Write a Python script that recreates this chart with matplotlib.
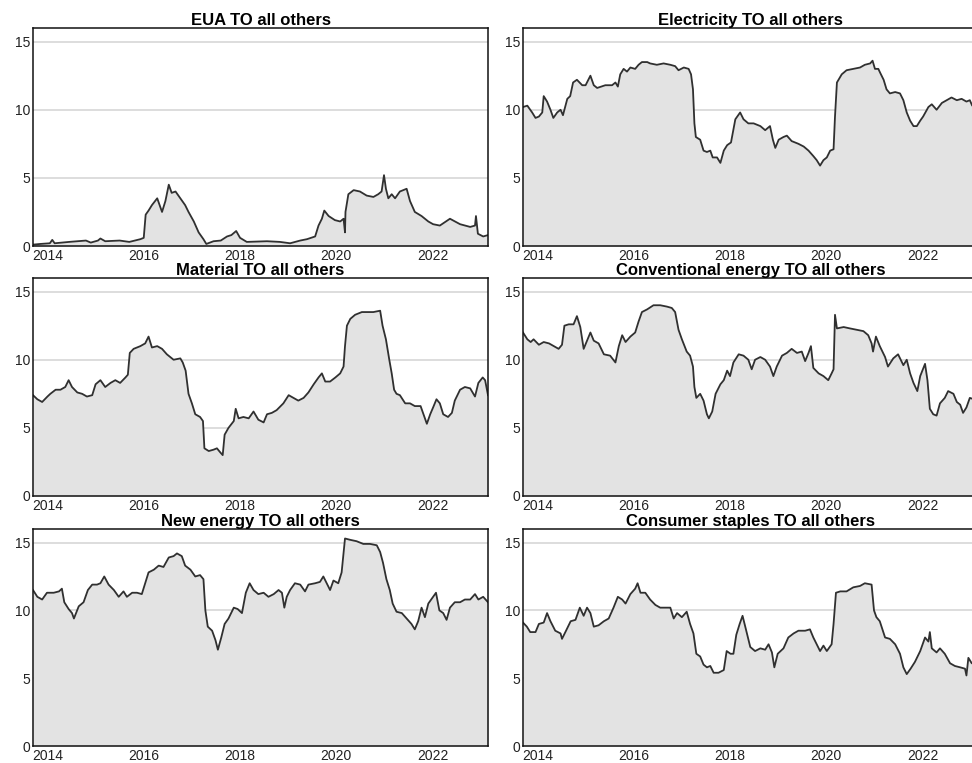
import matplotlib
matplotlib.use("Agg")
import matplotlib.pyplot as plt

plt.rcParams['font.family'] = ['Liberation Sans', 'DejaVu Sans']

# total spillover "TO all others", sampled at irregular dates (decimal years)
eua_t = [2013.70, 2013.85, 2014.05, 2014.10, 2014.15, 2014.45, 2014.80, 2014.90, 2015.05, 2015.10,
         2015.20, 2015.50, 2015.70, 2015.93, 2016.00, 2016.04, 2016.10, 2016.17, 2016.28, 2016.33,
         2016.38, 2016.45, 2016.52, 2016.58, 2016.66, 2016.76, 2016.86, 2016.93, 2017.04, 2017.14,
         2017.24, 2017.30, 2017.45, 2017.60, 2017.73, 2017.82, 2017.92, 2018.00, 2018.14, 2018.56,
         2018.83, 2019.04, 2019.25, 2019.39, 2019.56, 2019.63, 2019.70, 2019.75, 2019.84, 2019.97,
         2020.08, 2020.15, 2020.18, 2020.19, 2020.25, 2020.36, 2020.49, 2020.63, 2020.77, 2020.87,
         2020.94, 2020.99, 2021.03, 2021.08, 2021.15, 2021.22, 2021.32, 2021.46, 2021.53, 2021.63,
         2021.77, 2021.91, 2022.01, 2022.15, 2022.36, 2022.57, 2022.78, 2022.88, 2022.90, 2022.94,
         2023.05, 2023.15]
eua_v = [0.10, 0.15, 0.20, 0.45, 0.20, 0.30, 0.40, 0.25, 0.40, 0.55,
         0.35, 0.40, 0.30, 0.50, 0.60, 2.30, 2.60, 3.00, 3.50, 3.00,
         2.50, 3.30, 4.50, 3.90, 4.00, 3.50, 3.00, 2.50, 1.80, 1.00,
         0.50, 0.15, 0.35, 0.40, 0.70, 0.80, 1.10, 0.60, 0.30, 0.35,
         0.30, 0.20, 0.40, 0.50, 0.70, 1.50, 2.00, 2.60, 2.20, 1.90,
         1.80, 2.00, 1.00, 2.50, 3.80, 4.10, 4.00, 3.70, 3.60, 3.80,
         4.00, 5.20, 4.20, 3.50, 3.80, 3.50, 4.00, 4.20, 3.30, 2.50,
         2.20, 1.80, 1.60, 1.50, 2.00, 1.60, 1.40, 1.50, 2.20, 0.90,
         0.70, 0.80]

elec_t = [2013.70, 2013.79, 2013.89, 2013.96, 2014.03, 2014.10, 2014.13, 2014.20, 2014.27, 2014.33,
          2014.41, 2014.48, 2014.53, 2014.62, 2014.68, 2014.74, 2014.82, 2014.93, 2015.00, 2015.10,
          2015.17, 2015.24, 2015.41, 2015.55, 2015.62, 2015.67, 2015.72, 2015.79, 2015.86, 2015.93,
          2016.03, 2016.10, 2016.17, 2016.28, 2016.34, 2016.48, 2016.62, 2016.76, 2016.86, 2016.93,
          2017.04, 2017.14, 2017.19, 2017.23, 2017.26, 2017.29, 2017.38, 2017.45, 2017.52, 2017.59,
          2017.64, 2017.73, 2017.80, 2017.87, 2017.94, 2018.02, 2018.11, 2018.21, 2018.28, 2018.38,
          2018.49, 2018.63, 2018.73, 2018.83, 2018.89, 2018.94, 2019.01, 2019.11, 2019.18, 2019.28,
          2019.42, 2019.53, 2019.63, 2019.73, 2019.80, 2019.87, 2019.94, 2020.01, 2020.08, 2020.15,
          2020.18, 2020.22, 2020.32, 2020.42, 2020.56, 2020.70, 2020.80, 2020.91, 2020.96, 2021.01,
          2021.08, 2021.12, 2021.19, 2021.25, 2021.32, 2021.43, 2021.53, 2021.60, 2021.67, 2021.74,
          2021.81, 2021.88, 2021.95, 2022.01, 2022.12, 2022.19, 2022.29, 2022.40, 2022.50, 2022.60,
          2022.71, 2022.81, 2022.91, 2022.98, 2023.03, 2023.15]
elec_v = [10.2, 10.3, 9.8, 9.4, 9.5, 9.8, 11.0, 10.6, 10.0, 9.4,
          9.8, 10.0, 9.6, 10.8, 11.0, 12.0, 12.2, 11.8, 11.8, 12.5,
          11.8, 11.6, 11.8, 11.8, 12.0, 11.7, 12.6, 13.0, 12.8, 13.1,
          13.0, 13.3, 13.5, 13.5, 13.4, 13.3, 13.4, 13.3, 13.2, 12.9,
          13.1, 13.0, 12.6, 11.5, 9.0, 8.0, 7.8, 7.0, 6.9, 7.0,
          6.5, 6.5, 6.1, 7.0, 7.4, 7.6, 9.3, 9.8, 9.3, 9.0,
          9.0, 8.8, 8.5, 8.8, 7.8, 7.2, 7.8, 8.0, 8.1, 7.7,
          7.5, 7.3, 7.0, 6.6, 6.3, 5.9, 6.3, 6.5, 7.0, 7.1,
          9.5, 12.0, 12.6, 12.9, 13.0, 13.1, 13.3, 13.4, 13.6, 13.0,
          13.0, 12.7, 12.2, 11.5, 11.2, 11.3, 11.2, 10.7, 9.8, 9.2,
          8.8, 8.8, 9.2, 9.5, 10.2, 10.4, 10.0, 10.5, 10.7, 10.9,
          10.7, 10.8, 10.6, 10.7, 10.3, 10.6]

mat_t = [2013.70, 2013.79, 2013.89, 2014.00, 2014.06, 2014.17, 2014.27, 2014.37, 2014.44, 2014.51,
         2014.62, 2014.72, 2014.82, 2014.93, 2015.00, 2015.10, 2015.20, 2015.31, 2015.41, 2015.51,
         2015.62, 2015.67, 2015.71, 2015.79, 2015.93, 2016.03, 2016.10, 2016.17, 2016.28, 2016.38,
         2016.48, 2016.62, 2016.76, 2016.81, 2016.87, 2016.93, 2017.00, 2017.07, 2017.17, 2017.23,
         2017.26, 2017.35, 2017.45, 2017.52, 2017.59, 2017.64, 2017.68, 2017.76, 2017.87, 2017.91,
         2017.97, 2018.07, 2018.18, 2018.28, 2018.38, 2018.49, 2018.56, 2018.66, 2018.76, 2018.90,
         2019.01, 2019.11, 2019.21, 2019.32, 2019.42, 2019.53, 2019.63, 2019.70, 2019.77, 2019.87,
         2019.98, 2020.08, 2020.15, 2020.18, 2020.22, 2020.29, 2020.39, 2020.53, 2020.63, 2020.77,
         2020.91, 2020.96, 2021.03, 2021.10, 2021.15, 2021.20, 2021.25, 2021.32, 2021.43, 2021.53,
         2021.63, 2021.75, 2021.81, 2021.88, 2021.95, 2022.01, 2022.08, 2022.15, 2022.22, 2022.32,
         2022.40, 2022.46, 2022.57, 2022.67, 2022.78, 2022.88, 2022.95, 2023.04, 2023.09, 2023.15]
mat_v = [7.4, 7.1, 6.9, 7.3, 7.5, 7.8, 7.8, 8.0, 8.5, 8.0,
         7.6, 7.5, 7.3, 7.4, 8.2, 8.5, 8.0, 8.3, 8.5, 8.3,
         8.7, 8.9, 10.5, 10.8, 11.0, 11.2, 11.7, 10.9, 11.0, 10.8,
         10.4, 10.0, 10.1, 9.8, 9.2, 7.5, 6.8, 6.0, 5.8, 5.5,
         3.5, 3.3, 3.4, 3.5, 3.2, 3.0, 4.5, 5.0, 5.5, 6.4,
         5.7, 5.8, 5.7, 6.2, 5.6, 5.4, 6.0, 6.1, 6.3, 6.8,
         7.4, 7.2, 7.0, 7.2, 7.6, 8.2, 8.7, 9.0, 8.4, 8.4,
         8.7, 9.0, 9.5, 11.0, 12.5, 13.0, 13.3, 13.5, 13.5, 13.5,
         13.6, 12.5, 11.5, 10.0, 9.0, 7.8, 7.5, 7.4, 6.8, 6.8,
         6.6, 6.6, 6.0, 5.3, 6.0, 6.5, 7.1, 6.8, 6.0, 5.8,
         6.1, 7.0, 7.8, 8.0, 7.9, 7.3, 8.3, 8.7, 8.5, 7.4]

conv_t = [2013.70, 2013.79, 2013.86, 2013.92, 2014.03, 2014.13, 2014.24, 2014.34, 2014.44, 2014.51,
          2014.56, 2014.65, 2014.75, 2014.82, 2014.89, 2014.96, 2015.03, 2015.10, 2015.17, 2015.27,
          2015.38, 2015.51, 2015.62, 2015.69, 2015.76, 2015.83, 2015.93, 2016.03, 2016.10, 2016.17,
          2016.28, 2016.41, 2016.55, 2016.69, 2016.79, 2016.86, 2016.93, 2017.00, 2017.10, 2017.17,
          2017.23, 2017.26, 2017.30, 2017.38, 2017.45, 2017.52, 2017.56, 2017.63, 2017.70, 2017.80,
          2017.87, 2017.94, 2018.00, 2018.07, 2018.18, 2018.28, 2018.38, 2018.45, 2018.52, 2018.63,
          2018.73, 2018.83, 2018.90, 2018.97, 2019.08, 2019.18, 2019.28, 2019.39, 2019.49, 2019.56,
          2019.63, 2019.68, 2019.73, 2019.84, 2019.94, 2020.04, 2020.11, 2020.15, 2020.18, 2020.22,
          2020.36, 2020.49, 2020.63, 2020.77, 2020.87, 2020.94, 2020.97, 2021.03, 2021.11, 2021.22,
          2021.28, 2021.39, 2021.49, 2021.60, 2021.67, 2021.74, 2021.81, 2021.89, 2021.95, 2022.05,
          2022.10, 2022.15, 2022.22, 2022.29, 2022.36, 2022.46, 2022.53, 2022.64, 2022.71, 2022.78,
          2022.84, 2022.91, 2022.98, 2023.15]
conv_v = [12.0, 11.5, 11.3, 11.5, 11.1, 11.3, 11.2, 11.0, 10.8, 11.1,
          12.5, 12.6, 12.6, 13.2, 12.4, 10.8, 11.4, 12.0, 11.4, 11.2,
          10.4, 10.3, 9.8, 11.0, 11.8, 11.3, 11.7, 12.0, 12.8, 13.5,
          13.7, 14.0, 14.0, 13.9, 13.8, 13.5, 12.2, 11.5, 10.6, 10.3,
          9.5, 8.0, 7.2, 7.5, 7.0, 6.0, 5.7, 6.2, 7.5, 8.2,
          8.5, 9.2, 8.8, 9.8, 10.4, 10.3, 10.0, 9.3, 10.0, 10.2,
          10.0, 9.5, 8.8, 9.5, 10.3, 10.5, 10.8, 10.5, 10.6, 9.9,
          10.5, 11.0, 9.4, 9.0, 8.8, 8.5, 9.0, 9.3, 13.3, 12.3,
          12.4, 12.3, 12.2, 12.1, 11.8, 11.2, 10.6, 11.7, 11.0, 10.2,
          9.5, 10.1, 10.4, 9.6, 10.0, 9.0, 8.3, 7.7, 8.8, 9.7,
          8.5, 6.4, 6.0, 5.9, 6.8, 7.2, 7.7, 7.5, 6.9, 6.7,
          6.1, 6.5, 7.2, 7.0]

new_t = [2013.70, 2013.79, 2013.89, 2013.99, 2014.13, 2014.24, 2014.30, 2014.35, 2014.44, 2014.51,
         2014.55, 2014.65, 2014.75, 2014.84, 2014.93, 2015.03, 2015.10, 2015.18, 2015.27, 2015.38,
         2015.48, 2015.58, 2015.65, 2015.76, 2015.86, 2015.96, 2016.03, 2016.10, 2016.21, 2016.31,
         2016.41, 2016.52, 2016.62, 2016.69, 2016.79, 2016.86, 2016.97, 2017.07, 2017.17, 2017.24,
         2017.28, 2017.33, 2017.42, 2017.49, 2017.54, 2017.61, 2017.68, 2017.76, 2017.87, 2017.95,
         2018.04, 2018.12, 2018.20, 2018.28, 2018.38, 2018.49, 2018.59, 2018.70, 2018.80, 2018.87,
         2018.92, 2018.97, 2019.04, 2019.14, 2019.25, 2019.35, 2019.42, 2019.56, 2019.66, 2019.73,
         2019.80, 2019.87, 2019.94, 2020.04, 2020.11, 2020.18, 2020.29, 2020.42, 2020.56, 2020.70,
         2020.84, 2020.91, 2020.97, 2021.04, 2021.11, 2021.17, 2021.25, 2021.36, 2021.46, 2021.56,
         2021.63, 2021.70, 2021.77, 2021.84, 2021.91, 2022.01, 2022.07, 2022.14, 2022.22, 2022.29,
         2022.36, 2022.46, 2022.57, 2022.67, 2022.78, 2022.88, 2022.95, 2023.05, 2023.15]
new_v = [11.5, 11.0, 10.8, 11.3, 11.3, 11.4, 11.6, 10.6, 10.1, 9.8,
         9.4, 10.3, 10.6, 11.5, 11.9, 11.9, 12.0, 12.5, 11.9, 11.5,
         11.0, 11.4, 11.0, 11.3, 11.3, 11.2, 12.0, 12.8, 13.0, 13.3,
         13.2, 13.9, 14.0, 14.2, 14.0, 13.3, 13.0, 12.5, 12.6, 12.3,
         10.0, 8.8, 8.5, 7.8, 7.1, 8.0, 9.0, 9.4, 10.2, 10.1,
         9.8, 11.3, 12.0, 11.5, 11.2, 11.3, 11.0, 11.2, 11.5, 11.3,
         10.2, 11.0, 11.5, 12.0, 11.9, 11.4, 11.9, 12.0, 12.1, 12.5,
         12.0, 11.5, 12.2, 12.0, 12.8, 15.3, 15.2, 15.1, 14.9, 14.9,
         14.8, 14.3, 13.5, 12.3, 11.5, 10.5, 9.9, 9.8, 9.4, 9.0,
         8.6, 9.2, 10.2, 9.5, 10.5, 11.0, 11.3, 10.0, 9.8, 9.3,
         10.2, 10.6, 10.6, 10.8, 10.8, 11.2, 10.8, 11.0, 10.6]

cons_t = [2013.70, 2013.78, 2013.85, 2013.96, 2014.03, 2014.13, 2014.20, 2014.27, 2014.37, 2014.48,
          2014.51, 2014.58, 2014.69, 2014.79, 2014.88, 2014.96, 2015.03, 2015.10, 2015.17, 2015.27,
          2015.38, 2015.48, 2015.58, 2015.67, 2015.76, 2015.83, 2015.93, 2016.03, 2016.08, 2016.14,
          2016.24, 2016.34, 2016.45, 2016.55, 2016.66, 2016.76, 2016.83, 2016.90, 2017.00, 2017.10,
          2017.17, 2017.24, 2017.30, 2017.38, 2017.45, 2017.52, 2017.59, 2017.66, 2017.76, 2017.87,
          2017.93, 2018.01, 2018.07, 2018.13, 2018.20, 2018.26, 2018.33, 2018.42, 2018.52, 2018.63,
          2018.73, 2018.80, 2018.87, 2018.92, 2018.99, 2019.11, 2019.21, 2019.32, 2019.42, 2019.56,
          2019.66, 2019.73, 2019.80, 2019.87, 2019.94, 2020.01, 2020.11, 2020.15, 2020.20, 2020.29,
          2020.42, 2020.56, 2020.70, 2020.80, 2020.94, 2020.99, 2021.04, 2021.11, 2021.22, 2021.32,
          2021.43, 2021.53, 2021.60, 2021.67, 2021.75, 2021.84, 2021.95, 2022.05, 2022.12, 2022.15,
          2022.19, 2022.29, 2022.36, 2022.46, 2022.57, 2022.67, 2022.78, 2022.88, 2022.91, 2022.95,
          2023.02, 2023.15]
cons_v = [9.1, 8.8, 8.4, 8.4, 9.0, 9.1, 9.8, 9.2, 8.5, 8.3,
          7.9, 8.4, 9.2, 9.3, 10.2, 9.6, 10.2, 9.8, 8.8, 8.9,
          9.2, 9.4, 10.2, 11.0, 10.8, 10.5, 11.2, 11.6, 12.0, 11.3,
          11.3, 10.8, 10.4, 10.2, 10.2, 10.2, 9.4, 9.8, 9.5, 9.9,
          9.0, 8.3, 6.8, 6.6, 6.0, 5.8, 5.9, 5.4, 5.4, 5.6,
          7.0, 6.8, 6.8, 8.2, 9.0, 9.6, 8.6, 7.3, 7.0, 7.2,
          7.1, 7.5, 6.9, 5.8, 6.8, 7.2, 8.0, 8.3, 8.5, 8.5,
          8.6, 8.0, 7.5, 7.0, 7.4, 7.0, 7.5, 9.0, 11.3, 11.4,
          11.4, 11.7, 11.8, 12.0, 11.9, 10.0, 9.5, 9.2, 8.0, 7.9,
          7.5, 6.8, 5.8, 5.3, 5.7, 6.2, 7.0, 8.0, 7.7, 8.4,
          7.2, 6.9, 7.2, 6.8, 6.1, 5.9, 5.8, 5.7, 5.2, 6.5,
          6.1, 6.0]

titles = ["EUA TO all others", "Electricity TO all others",
          "Material TO all others", "Conventional energy TO all others",
          "New energy TO all others", "Consumer staples TO all others"]
series = [(eua_t, eua_v), (elec_t, elec_v), (mat_t, mat_v),
          (conv_t, conv_v), (new_t, new_v), (cons_t, cons_v)]
years = [2014, 2016, 2018, 2020, 2022]

W, H = 972, 763
fig = plt.figure(figsize=(W / 100, H / 100), dpi=100)

# panel boxes in pixels: (left, top, bottom); right column runs past the page edge
lefts = [33, 523]
rows = [(28, 246), (278, 496), (529, 746)]
pw = 455

for i, (title, (t, v)) in enumerate(zip(titles, series)):
    top, bot = rows[i // 2]
    left = lefts[i % 2]
    ax = fig.add_axes([left / W, 1 - bot / H, pw / W, (bot - top) / H])
    for g in [5, 10, 15]:
        ax.axhline(g, color='#dadada', lw=1.3, zorder=0)
    ax.fill_between(t, v, 0, color='#e3e3e3', lw=0, zorder=1)
    ax.plot(t, v, color='#303030', lw=1.3, zorder=2)
    ax.set_xlim(2013.70, 2023.15)
    ax.set_ylim(0, 16)
    ax.set_yticks([0, 5, 10, 15])
    ax.set_xticks(years)
    ax.set_xticklabels([str(y) for y in years])
    ax.tick_params(length=0, labelsize=10, colors='#222222', pad=2)
    for s in ax.spines.values():
        s.set_color('#111111')
        s.set_linewidth(1.1)
        s.set_zorder(3)
    ax.set_title(title, fontsize=12, fontweight='bold', pad=1)

fig.savefig('out.png', dpi=100)
